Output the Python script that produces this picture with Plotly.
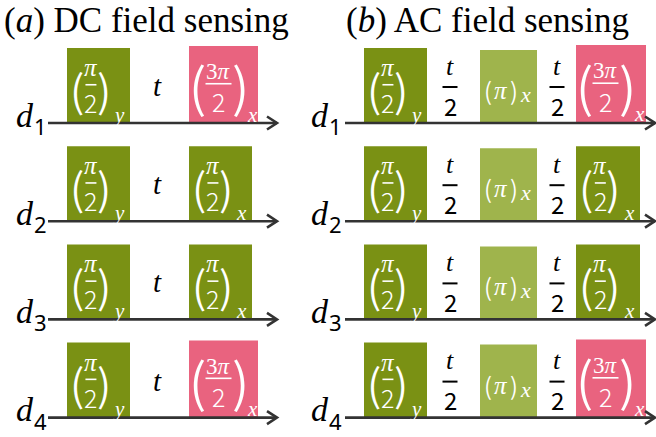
import plotly.graph_objects as go

# ---- sequence content -------------------------------------------------
row_labels = ["1", "2", "3", "4"]
panel_tags = ["a", "b"]
panel_titles = ["DC field sensing", "AC field sensing"]
# numerator of the final (.../2)_x readout pulse on each detector row
dc_readout = ["3π", "π", "π", "3π"]
ac_readout = ["3π", "π", "π", "3π"]
prep_pulse = ("π", "2", "y")      # (π/2)_y preparation pulse
echo_pulse = ("π", "x")           # (π)_x refocusing pulse
dc_wait = "t"
ac_wait = ("t", "2")

# ---- styling ----------------------------------------------------------
DARK = "#7a9114"
LIGHT = "#9fb44c"
PINK = "#e9637f"
AXIS = "#333333"
SERIF = "Liberation Serif"
SANS = "Noto Sans"
PAREN = "Noto Sans CJK SC"

W, H = 656, 437
ROW_Y0, ROW_STEP = 123, 98.2

fig = go.Figure()


def rect(x0, x1, top, base, color):
    fig.add_shape(type="rect", x0=x0, x1=x1, y0=top, y1=base, xref="x", yref="y",
                  fillcolor=color, line=dict(width=0), layer="below")


def txt(x, y, s, size, color="white", family=SERIF, italic=False, weight=400):
    fig.add_annotation(x=x, y=y, text=s, showarrow=False, xref="x", yref="y",
                       xanchor="center", yanchor="middle",
                       font=dict(size=size, color=color, family=family,
                                 style="italic" if italic else "normal", weight=weight))


def bar(xc, y, half, color, width=1.6):
    fig.add_shape(type="line", x0=xc - half, x1=xc + half, y0=y, y1=y, xref="x", yref="y",
                  line=dict(color=color, width=width))


def frac_pulse(L, R, top, base, num, den, sub, color):
    """Pulse box holding a big-parenthesised fraction with a subscript axis."""
    rect(L, R, top, base, color)
    w = R - L
    h = base - top
    big = len(num) > 1
    pc = top + h * (0.5 if big else 0.53)
    psize = 52 if big else 43
    txt(L + 8 if big else L + 10, pc, "(", psize, family=PAREN, weight=350)
    txt(L + 51 if big else L + w * 0.58, pc, ")", psize, family=PAREN, weight=350)
    fc = L + (29.5 if big else w * 0.38)
    ntxt = "3<i>π</i>" if big else "<i>π</i>"
    txt(fc, top + h * (0.33 if big else 0.26), ntxt, 23 if big else 25, family=SERIF)
    bar(fc, top + h * 0.49, 13 if big else 5.5, "white")
    txt(fc, top + h * 0.72, den, 25, family=PAREN, weight=300)
    txt(L + (63.5 if big else w * 0.83), top + h * 0.89, sub, 21, italic=True)


def echo_box(L, R, top, base, color):
    rect(L, R, top, base, color)
    yc = top + (base - top) * 0.54
    txt(L + 8, yc, "(", 24, family=PAREN, weight=350)
    txt(L + 21, yc + 1, "<i>" + echo_pulse[0] + "</i>", 25, family=SERIF)
    txt(L + 34, yc, ")", 24, family=PAREN, weight=350)
    txt(L + 45, yc + 5, echo_pulse[1], 22, italic=True)


def half_wait(xc, base):
    txt(xc, base - 57, ac_wait[0], 26, color="black", family=SERIF, italic=True)
    bar(xc, base - 36, 7.5, "black", 2)
    txt(xc, base - 18, ac_wait[1], 24, color="black", family=PAREN, weight=400)


def time_axis(x0, x1, y):
    fig.add_shape(type="line", x0=x0, x1=x1, y0=y, y1=y, xref="x", yref="y",
                  line=dict(color=AXIS, width=2.6))
    fig.add_trace(go.Scatter(x=[x1 - 10, x1, x1 - 10], y=[y - 6.5, y, y + 6.5],
                             mode="lines", line=dict(color=AXIS, width=2.6),
                             hoverinfo="skip"))


def readout_color(num):
    return PINK if len(num) > 1 else DARK


# ---- panel titles -----------------------------------------------------
for tag, title, xl in zip(panel_tags, panel_titles, [2, 344]):
    fig.add_annotation(x=xl, y=20, text=f"(<i>{tag}</i>) {title}", showarrow=False,
                       xref="x", yref="y", xanchor="left", yanchor="middle",
                       font=dict(size=35, color="black", family=SERIF))

# ---- detector rows ----------------------------------------------------
for i, lab in enumerate(row_labels):
    base = ROW_Y0 + i * ROW_STEP

    # (a) Ramsey sequence for DC fields
    txt(25, base - 8, "<i>d</i>", 34, color="black", family=SERIF)
    txt(40, base + 3, lab, 22, color="black", family=SANS)
    frac_pulse(67, 130, base - 75, base, prep_pulse[0], prep_pulse[1], prep_pulse[2], DARK)
    txt(157, base - 37, dc_wait, 29, color="black", family=SERIF, italic=True)
    num = dc_readout[i]
    wide = len(num) > 1
    frac_pulse(189, 258 if wide else 252, base - (77 if wide else 75), base,
               num, "2", "x", readout_color(num))
    time_axis(48, 277, base)

    # (b) Hahn-echo sequence for AC fields
    txt(320, base - 8, "<i>d</i>", 34, color="black", family=SERIF)
    txt(335, base + 3, lab, 22, color="black", family=SANS)
    frac_pulse(364, 427, base - 75, base, prep_pulse[0], prep_pulse[1], prep_pulse[2], DARK)
    half_wait(450, base)
    echo_box(480, 537, base - 73, base, LIGHT)
    half_wait(557, base)
    num = ac_readout[i]
    wide = len(num) > 1
    frac_pulse(576, 646 if wide else 640, base - (78 if wide else 75), base,
               num, "2", "x", readout_color(num))
    time_axis(345, 655, base)

fig.update_layout(
    width=W, height=H, margin=dict(l=0, r=0, t=0, b=0),
    paper_bgcolor="white", plot_bgcolor="white", showlegend=False,
    xaxis=dict(range=[0, W], visible=False, fixedrange=True),
    yaxis=dict(range=[H, 0], visible=False, fixedrange=True),
)

fig.write_html("out.html")
